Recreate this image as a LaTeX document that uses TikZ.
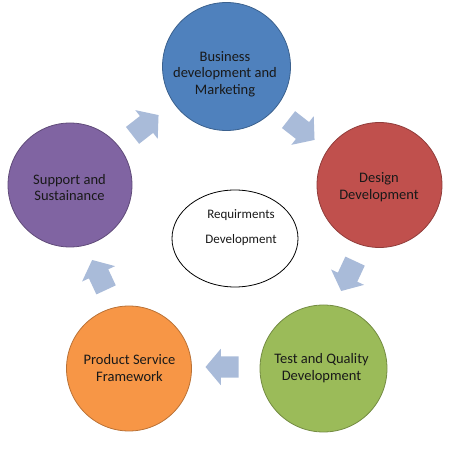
\documentclass[tikz,border=0pt]{standalone}
\usepackage{fontspec}
\setmainfont{Carlito}
\usetikzlibrary{shapes.geometric,shapes.arrows}
\definecolor{cblue}{HTML}{4F81BD}
\definecolor{cred}{HTML}{C0504D}
\definecolor{cgreen}{HTML}{9BBB59}
\definecolor{corange}{HTML}{F79646}
\definecolor{cpurple}{HTML}{8064A2}
\definecolor{carrow}{HTML}{A9BBD9}
\tikzset{
  bigcirc/.style={circle, minimum size=#1, inner sep=0pt, line width=0.8pt},
  circtext/.style={align=center, inner sep=0pt, text=black!90,
    font=\fontsize{14.5}{16.5}\selectfont},
  blockarrow/.style={single arrow, fill=carrow, draw=none, inner xsep=0pt, inner ysep=10.5pt,
    minimum height=33pt, single arrow head extend=7.5pt,
    single arrow tip angle=100, single arrow head indent=0pt},
}
\begin{document}
\begin{tikzpicture}[x=1pt,y=1pt]
\useasboundingbox (0,0) rectangle (450,450);
\node[bigcirc=128pt, fill=cblue, draw=cblue!75!black] (biz) at (226.5,383.5) {};
\node[circtext] (biztext) at (225,376) {Business\\development and\\Marketing};
\node[bigcirc=125pt, fill=cred, draw=cred!75!black] (des) at (379.5,265) {};
\node[circtext] (destext) at (379,263) {Design\\Development};
\node[bigcirc=127pt, fill=cgreen, draw=cgreen!75!black] (test) at (323.5,81.5) {};
\node[circtext] (testtext) at (321.5,82) {Test and Quality\\Development};
\node[bigcirc=125pt, fill=corange, draw=corange!75!black] (prod) at (129,81.5) {};
\node[circtext] (prodtext) at (129.5,82) {Product Service\\Framework};
\node[bigcirc=124pt, fill=cpurple, draw=cpurple!75!black] (sup) at (70,265) {};
\node[circtext] (suptext) at (69.5,262.5) {Support and\\Sustainance};
\node[ellipse, draw=black, line width=0.8pt, minimum width=126pt, minimum height=97pt] (req) at (235,211.5) {};
\node[align=center, inner sep=0pt, text=black!90, font=\fontsize{13}{25}\selectfont] (reqtext) at (241,222.5) {Requirments\\Development};
\node[blockarrow, rotate=38] (a1) at (142,322) {};
\node[blockarrow, rotate=-38] (a2) at (298,323) {};
\node[blockarrow, rotate=-115] (a3) at (350,178) {};
\node[blockarrow, rotate=180] (a4) at (226.5,83) {};
\node[blockarrow, rotate=115] (a5) at (101,171) {};
\end{tikzpicture}
\end{document}
